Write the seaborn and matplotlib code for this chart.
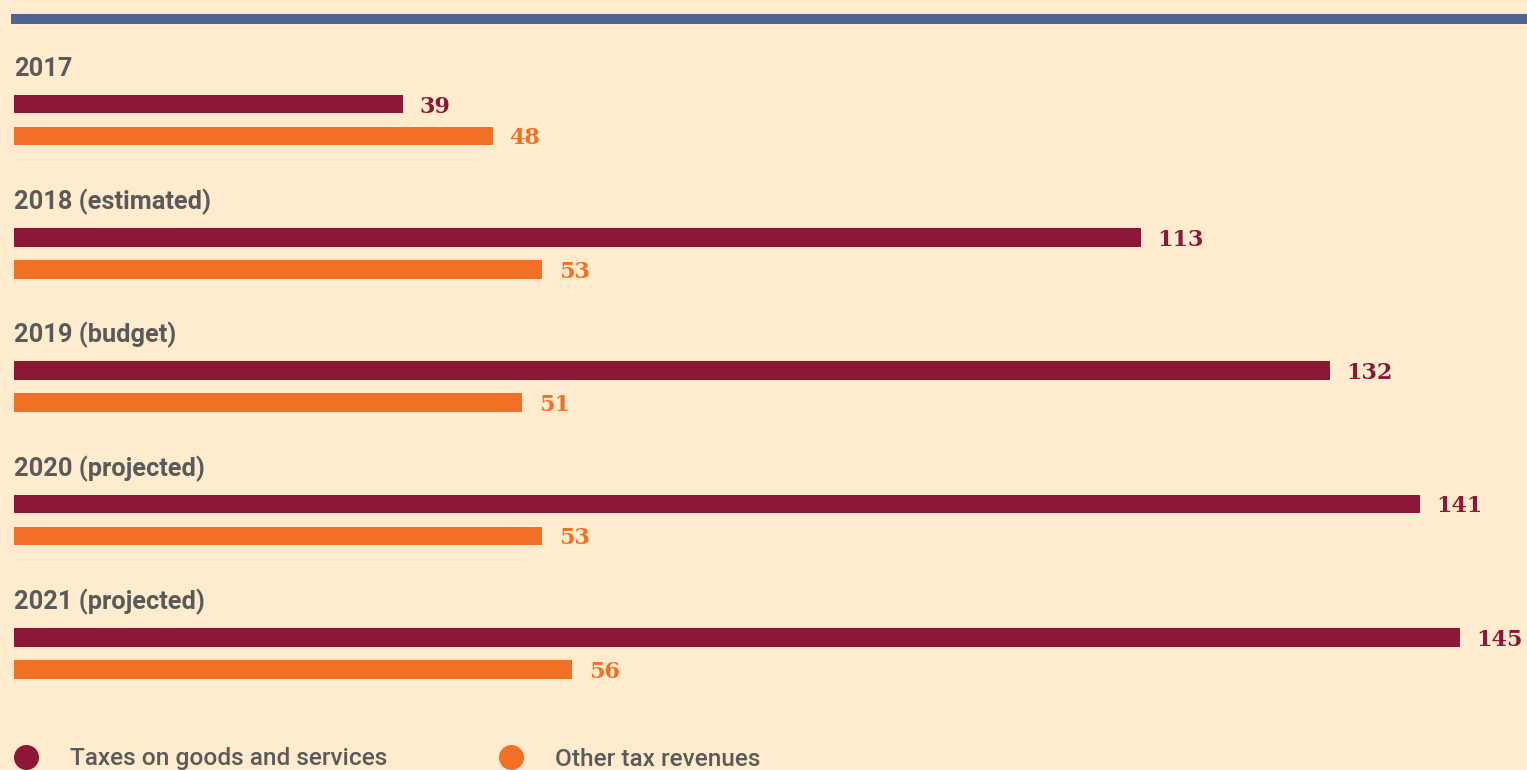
import matplotlib
matplotlib.use("Agg")
import matplotlib.pyplot as plt
from matplotlib.patches import Rectangle
from matplotlib.lines import Line2D
import seaborn as sns
import pandas as pd

# Tax revenue by year
years = ["2017", "2018 (estimated)", "2019 (budget)", "2020 (projected)", "2021 (projected)"]
goods_services = [39, 113, 132, 141, 145]
other_taxes = [48, 53, 51, 53, 56]
series_names = ["Taxes on goods and services", "Other tax revenues"]

MAROON = "#8c1736"
ORANGE = "#f26f26"
BLUE = "#4f6393"
BG = "#ffecce"
GREY = "#5a5a5a"

df = pd.DataFrame({
    "year": years * 2,
    "series": [series_names[0]] * len(years) + [series_names[1]] * len(years),
    "value": goods_services + other_taxes,
})

sns.set_theme(style="white")
plt.rcParams["font.family"] = ["Roboto", "DejaVu Sans"]

W, H, DPI = 1527, 770, 100
fig = plt.figure(figsize=(W / DPI, H / DPI), dpi=DPI, facecolor=BG)
ax = fig.add_axes([0, 0, 1, 1])
ax.set_facecolor(BG)

sns.barplot(
    data=df, x="value", y="year", hue="series", orient="h",
    palette=[MAROON, ORANGE], saturation=1, width=0.48, gap=0.42,
    linewidth=0, edgecolor="none", legend=False, ax=ax,
)

# pixel mapping: value 0 at x=14px, ~9.97 px per unit; group i centred at 120 + 133.33*i px
px_per_unit = 9.97
ax.set_xlim(-14 / px_per_unit, (W - 14) / px_per_unit)
row = 133.33
ax.set_ylim((H - 120) / row, -120 / row)

ax.set_xticks([])
ax.set_yticks([])
ax.set_xlabel("")
ax.set_ylabel("")
for s in ax.spines.values():
    s.set_visible(False)

# year headings above each pair of bars
for i, label in enumerate(years):
    ax.text(0, i - 0.33, label, ha="left", va="baseline", fontsize=18.3,
            fontweight="bold", color=GREY)

# value labels
for cont, col in zip(ax.containers, [MAROON, ORANGE]):
    texts = ax.bar_label(cont, fmt="%.0f", padding=12, color=col, fontsize=16,
                         fontweight="bold", family=["DejaVu Serif"])
    for t in texts:
        t.set_va("center_baseline")

# top rule
fig.patches.append(Rectangle((11 / W, 1 - 24 / H), 1 - 11 / W, 10 / H,
                             transform=fig.transFigure, facecolor=BLUE,
                             edgecolor="none"))

handles = [Line2D([], [], marker="o", linestyle="none", markersize=18,
                  markerfacecolor=c, markeredgecolor="none")
           for c in [MAROON, ORANGE]]
fig.legend(handles, series_names, loc="center left",
           bbox_to_anchor=(13 / W, 1 - 759 / H), ncol=2, frameon=False,
           prop={"size": 17.6, "weight": "medium"}, labelcolor=GREY,
           handlelength=1.07, handletextpad=1.27,
           columnspacing=4.5, borderpad=0, borderaxespad=0)

fig.savefig("out.png", dpi=DPI, facecolor=BG)
